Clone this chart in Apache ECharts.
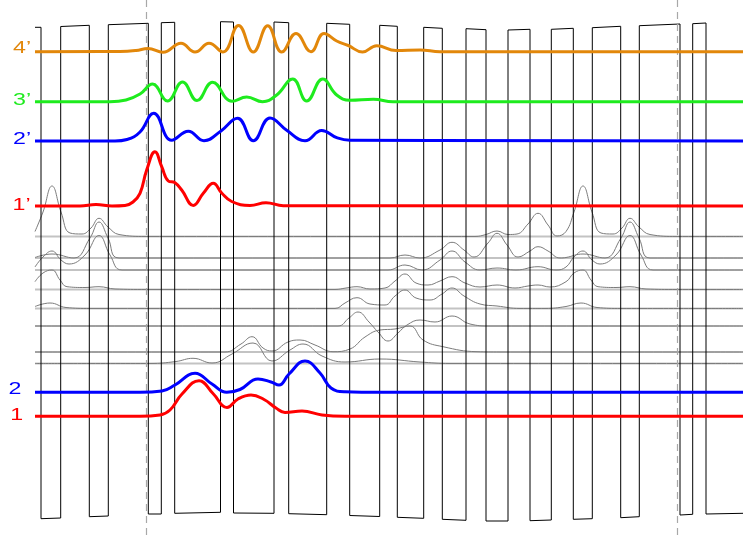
<!DOCTYPE html>
<html>
<head>
<meta charset="utf-8">
<script src="https://cdn.jsdelivr.net/npm/echarts@6/dist/echarts.min.js"></script>
<style>
html,body{margin:0;padding:0;background:#fff;}
#chart{width:743px;height:535px;}
</style>
</head>
<body>
<div id="chart"></div>
<script>
// ---- data (time in samples, level measured downward) ----
const tStart = 35, tEnd = 743;
const markerTimes = [146, 677];

const pulseTrain = [[35,27.3],[41,27.3],[41,518.7],[60.7,518],[60.7,26.5],[89.3,25.3],[89.3,516.7],[108.3,516],[108.3,24.7],[148.3,23.3],[148.3,514],[161.3,514],[161.3,22.7],[174.7,22.3],[174.7,513.3],[220.5,512.3],[220.5,21.7],[233.5,22],[233.5,513],[274,513.3],[274,22],[288.7,22.7],[288.7,513.7],[326.7,514.7],[326.7,23.3],[349.7,24.3],[349.7,515.5],[379.7,516.5],[379.7,25.3],[397.3,26.3],[397.3,517.3],[423.7,518.3],[423.7,27.3],[442.3,28.3],[442.3,519.3],[466,520.3],[466,28.7],[486,29.7],[486,521],[508,521],[508,30],[530,29.3],[530,520.7],[551.3,520],[551.3,29.3],[573.3,28.3],[573.3,519.3],[592.3,518.7],[592.3,27.7],[620.7,26.3],[620.7,517.7],[639.3,516.7],[639.3,25.7],[680,24],[680,515],[692.7,514.3],[692.7,23.7],[706,23],[706,514],[743,513.3]];

const trace4p = [[35,51.7],[120,51.5],[136,50.5],[148,48.5],[163,52.3],[181,43.3],[195,52],[209,43.3],[223,52],[238.5,25.5],[253.3,52],[267.7,25.7],[281.7,52],[296,33.5],[311,51.7],[324,33.5],[336.7,41],[348.3,45.5],[362.5,52],[376.7,45.7],[396,50.5],[420,50],[440,51.7],[743,51.7]];
const trace3p = [[35,101.7],[110,101.7],[126,100],[140,94],[152.5,84],[167.5,101],[182.5,82],[197,100.5],[212.5,82.3],[232,101.3],[246.7,97],[262.5,101.7],[276.7,95],[292.7,79],[306.7,101],[322.7,79],[336.7,95],[350,100.3],[373.3,99.3],[393,101.7],[743,101.7]];
const trace2p = [[35,141],[115,141],[127,139.5],[140,132],[153.7,113.3],[171.7,140.3],[188.3,131.3],[204,140.7],[221,131],[237.5,118.3],[253.3,140.7],[270,118],[287,130.5],[305,140.7],[321.7,130.5],[336.7,137.7],[350,140.3],[743,141]];
const trace1p = [[35,206],[80,206],[96,204.6],[112,206],[125,205.5],[133,202],[140,193.3],[146.7,170],[155,151.7],[161.7,166.7],[168.3,181],[175,182.7],[181.7,190],[193.3,205.5],[203.3,193.3],[213.3,183.3],[221.7,193],[231.7,201.5],[250,205.5],[266,202.7],[283.3,205.7],[743,206]];
const trace2 = [[35,392.3],[140,392.3],[162,391],[175,385],[195,373.3],[212,384],[226.7,392.3],[240,389.5],[258,379],[271,382],[279,385],[289,374],[305,361],[320,373],[331,388],[345,391.8],[380,392.3],[743,392.3]];
const trace1 = [[35,416.3],[140,416.3],[160,415],[170,410],[182,394],[199,380.7],[213,393.5],[227,407.5],[238,399],[251,395],[264,399.5],[276,408],[285,412.5],[302,411],[322,415],[345,416.3],[743,416.3]];

const colourLabels = ["4’","3’","2’","1’","2","1"];
const colourBaselines = [51.7,101.7,141,206,392.3,416.3];

const grayBaselines = [236.5,258,270,289.5,308.5,326,352,363.5];
const grayA = [[35,231.5],[43,212],[52,186],[61,212],[70,233],[82,234],[91,228],[99,218.3],[108,227],[119,234.5],[146,236.5],[475,236.5],[486,234.5],[497,231],[508,234.5],[517,234],[528,224],[538,213.3],[548,225],[557,236],[566,231.5],[574,212],[583,186],[592,212],[601,233],[613,234],[622,228],[630,218.3],[639,227],[650,234.5],[677,236.5],[743,236.5]];
const grayB = [[35,257.5],[52,254],[74,258],[90,238],[99,222],[108,238],[119,258],[390,258],[405,255],[420,258],[440,250],[452,242.3],[464,250],[474,257],[488,243],[497,233.3],[507,245],[518,257],[530,251],[538,246.7],[548,251],[560,258],[566,257.5],[583,254],[605,258],[621,238],[630,222],[639,238],[650,258],[743,258]];
const grayC = [[35,267],[43,257],[52,251],[61,260],[69,264],[85,255],[99,235.5],[110,255],[122,270],[388,270],[405,265],[422,270],[440,260],[452,251],[465,262],[480,270],[497,268],[516,270],[538,266.7],[556,270],[566,267],[574,257],[583,251],[592,260],[600,264],[616,255],[630,235.5],[641,255],[653,270],[743,270]];
const grayD = [[35,281.7],[43,273],[52,270],[60,280],[67,286.7],[85,287.5],[99,286.7],[115,289],[146,289.5],[335,289.5],[346,288],[357,286.7],[370,289],[385,288],[395,281],[405,274],[416,283],[428,285],[440,281],[452,276.7],[465,283],[480,287],[497,285],[515,288],[528,286],[538,285],[550,287],[566,281.7],[574,273],[583,270],[591,280],[598,286.7],[616,287.5],[630,286.7],[646,289],[677,289.5],[743,289.5]];
const grayE = [[35,306.5],[50,303],[66,307.5],[90,308.5],[335,308.5],[345,303],[357,297.7],[370,304],[385,305],[395,296],[405,290],[416,298],[430,300],[442,294],[452,288],[464,296],[480,304],[497,306],[520,308.5],[545,308.5],[566,306.5],[581,303],[597,307.5],[621,308.5],[743,308.5]];
const grayF = [[35,326],[338,326],[349,318],[358,312],[369,322],[378,332],[388,341],[398,333],[407,325],[420,320],[435,322],[452,316],[470,324],[490,326],[743,326]];
const grayG = [[35,352],[225,352],[241,344],[252,336.7],[263,348],[272,351],[288,342],[300,340],[315,345],[333,351.7],[350,349],[365,337],[380,330],[395,329],[410,326],[423,340],[443,346.7],[477,351.7],[500,352],[743,352]];
const grayH = [[35,363.5],[150,363.5],[176,361.5],[193,358.3],[212,363],[232,354],[253,343],[272,361],[290,350],[303,344],[322,356],[345,362],[380,359],[420,362],[450,363.5],[743,363.5]];

// ---- styles ----
const colourTraces = [trace4p, trace3p, trace2p, trace1p, trace2, trace1];
const colourColours = ['#E2870A','#1EEB1E','#0000FF','#FF0000','#0000FF','#FF0000'];
const labelStyle = [{x:13,dy:-3.2},{x:13,dy:-1},{x:13,dy:-1.8},{x:12.5,dy:-0.8},{x:8.6,dy:-2.3},{x:10.2,dy:-0.6}];
const grayTraces = [grayA, grayB, grayC, grayD, grayE, grayF, grayG, grayH];

const series = [];
grayBaselines.forEach(b => series.push({
  type:'line', data:[[tStart,b],[tEnd,b]], symbol:'none', silent:true,
  lineStyle:{color:'#c3c3c3', width:2}, z:1, animation:false
}));
grayTraces.forEach(d => series.push({
  type:'line', data:d, smooth:0.45, symbol:'none', silent:true,
  lineStyle:{color:'#7c7c7c', width:1}, z:2, animation:false
}));
series.push({
  type:'line', data:pulseTrain, symbol:'none', silent:true,
  lineStyle:{color:'#000', width:1}, z:3, animation:false,
  markLine:{symbol:'none', silent:true, label:{show:false},
    lineStyle:{type:[7,5], color:'#a8a8a8', width:1.2},
    data: markerTimes.map(t => ({xAxis:t}))}
});
colourTraces.forEach((d,i) => series.push({
  type:'line', data:d, smooth:0.45, symbol:'none', silent:true,
  lineStyle:{color:colourColours[i], width:3}, z:5, animation:false
}));

const chart = echarts.init(document.getElementById('chart'));
chart.setOption({
  animation:false,
  backgroundColor:'#fff',
  grid:{left:0,right:0,top:0,bottom:0},
  xAxis:{type:'value', min:0, max:743, show:false},
  yAxis:{type:'value', min:0, max:535, inverse:true, show:false},
  series: series
});
// trace labels, positioned from the trace baselines through the axes
const graphics = colourLabels.map((t,i) => {
  const p = chart.convertToPixel({gridIndex:0}, [labelStyle[i].x, colourBaselines[i]]);
  return {
    type:'text', x:p[0], y:p[1] + labelStyle[i].dy, scaleX:1.45, z:10, silent:true,
    style:{text:t, fill:colourColours[i], font:'16px "Liberation Sans", Arial, sans-serif',
      textAlign:'left', textVerticalAlign:'middle', verticalAlign:'middle'}
  };
});
chart.setOption({graphic: graphics});
</script>
</body>
</html>
